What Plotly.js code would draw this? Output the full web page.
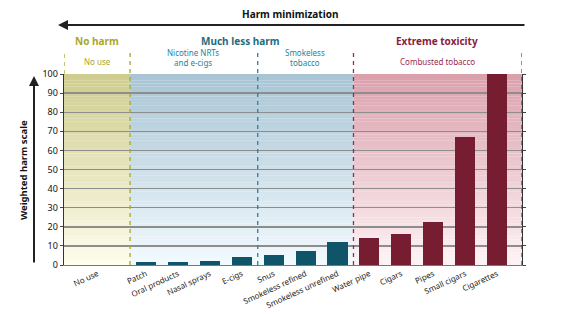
<!DOCTYPE html>
<html>
<head>
<meta charset="utf-8">
<script src="https://cdn.plot.ly/plotly-3.0.1.min.js"></script>
<style>html,body{margin:0;padding:0;background:#fff;}#chart{width:575px;height:314px;}</style>
</head>
<body>
<div id="chart"></div>
<script>
// ---- data ----
const categories = ['No use','Patch','Oral products','Nasal sprays','E-cigs','Snus','Smokeless refined','Smokeless unrefined','Water pipe','Cigars','Pipes','Small cigars','Cigarettes'];
const harmScores = [0, 1.4, 1.7, 2.1, 4.0, 5.2, 7.5, 12.0, 14.3, 16.4, 22.5, 66.8, 100];
const productGroup = ['none','nicotine','nicotine','nicotine','nicotine','smokeless','smokeless','smokeless','combusted','combusted','combusted','combusted','combusted'];
const yTicks = [0,10,20,30,40,50,60,70,80,90,100];

// ---- layout helpers ----
const W = 575, H = 314, L = 64, R = 53, T = 74, B = 49;
const pw = W - L - R, ph = H - T - B;
const px = x => (x - L) / pw;
const py = y => (H - B - y) / ph;

const xPos = categories.map((c, i) => i === 0 ? -0.52 : i);
const xRange = [-1.57, 12.78];

const barColors = productGroup.map(g => g === 'combusted' ? '#771d32' : '#0f5469');

const regions = [
  {x0: xRange[0], x1: 0.5, top: [206, 204, 142], bot: [255, 253, 236]},
  {x0: 0.5, x1: 7.5, top: [168, 196, 212], bot: [242, 250, 254]},
  {x0: 7.5, x1: xRange[1], top: [218, 160, 172], bot: [254, 243, 245]}
];

const shapes = [];
const N = 60;
regions.forEach(r => {
  for (let k = 0; k < N; k++) {
    const f = (k + 0.5) / N;
    const c = r.bot.map((b, j) => Math.round(b + (r.top[j] - b) * f));
    shapes.push({type: 'rect', xref: 'x', yref: 'y', x0: r.x0, x1: r.x1,
      y0: 100 * k / N, y1: 100 * (k + 1) / N + 0.05,
      fillcolor: `rgb(${c.join(',')})`, line: {width: 0}, layer: 'below'});
  }
});

const olive = '#aaa62a', teal = '#24849b', maroon = '#9a2b4e';
const dashTop = py(51);
function vline(x, y0, y1, color) {
  shapes.push({type: 'line', xref: 'x', yref: 'paper', x0: x, x1: x, y0: y0, y1: y1,
    line: {color: color, width: 1.3, dash: '4px,4px'}, layer: 'above'});
}
vline(xRange[0], 1.0, dashTop, olive);
vline(0.5, 0, dashTop, olive);
vline(4.5, 0, dashTop, teal);
vline(7.5, 0, dashTop, maroon);
vline(xRange[1], 0, dashTop, maroon);

const FONT = 'Noto Sans, Open Sans, sans-serif';
const ann = (text, x, y, color, size, bold) => ({
  text: bold ? '<b>' + text + '</b>' : text, xref: 'paper', yref: 'paper', x: x, y: y,
  xanchor: 'center', yanchor: 'middle', showarrow: false,
  font: {family: FONT, size: size, color: color}
});

const annotations = [
  ann('Harm minimization', px(290), py(14), '#111', 10, true),
  {text: '', xref: 'paper', yref: 'paper', x: px(58), y: py(25), ax: 468, ay: 0,
   showarrow: true, arrowhead: 2, arrowsize: 1, arrowwidth: 2, arrowcolor: '#222'},
  ann('No harm', px(97), py(41), olive, 10, true),
  ann('Much less harm', px(240), py(41), '#1d6c80', 10, true),
  ann('Extreme toxicity', px(437), py(41), '#8a1c3d', 10, true),
  ann('No use', px(97), py(62), olive, 8, false),
  ann('Nicotine NRTs<br>and e-cigs', px(193), py(58), teal, 8, false),
  ann('Smokeless<br>tobacco', px(305), py(58), teal, 8, false),
  ann('Combusted tobacco', px(437), py(62), maroon, 8, false),
  {text: '<b>Weighted harm scale</b>', xref: 'paper', yref: 'paper', x: px(23), y: py(170),
   textangle: -90, showarrow: false, xanchor: 'center', yanchor: 'middle',
   font: {family: FONT, size: 9.5, color: '#111'}},
  {text: '', xref: 'paper', yref: 'paper', x: px(34), y: py(76), ax: 0, ay: 188,
   showarrow: true, arrowhead: 2, arrowsize: 1, arrowwidth: 2, arrowcolor: '#222'}
];

const traces = [{
  type: 'bar', x: xPos, y: harmScores, width: 0.63,
  marker: {color: barColors, line: {width: 0}},
  hoverinfo: 'x+y'
}];

const layout = {
  width: W, height: H,
  margin: {l: L, r: R, t: T, b: B, pad: 0},
  paper_bgcolor: '#fff', plot_bgcolor: 'rgba(0,0,0,0)',
  showlegend: false,
  font: {family: FONT, color: '#111'},
  xaxis: {range: xRange, tickvals: xPos, ticktext: categories, tickangle: -25,
    tickfont: {size: 8, family: FONT, color: '#222'}, showgrid: false, zeroline: false,
    showline: true, linecolor: '#777', linewidth: 1.2, ticks: '', automargin: false, fixedrange: true},
  yaxis: {range: [0, 100], tickvals: yTicks, tickfont: {size: 9, family: FONT, color: '#111'},
    showgrid: true, gridcolor: '#8d8d8d', gridwidth: 1.4, zeroline: false,
    showline: true, linecolor: '#333', linewidth: 1.3, mirror: 'ticks',
    ticks: 'outside', ticklen: 3, tickcolor: '#444', automargin: false, fixedrange: true},
  shapes: shapes,
  annotations: annotations,
  bargap: 0
};

Plotly.newPlot('chart', traces, layout, {displayModeBar: false, staticPlot: true});
</script>
</body>
</html>
